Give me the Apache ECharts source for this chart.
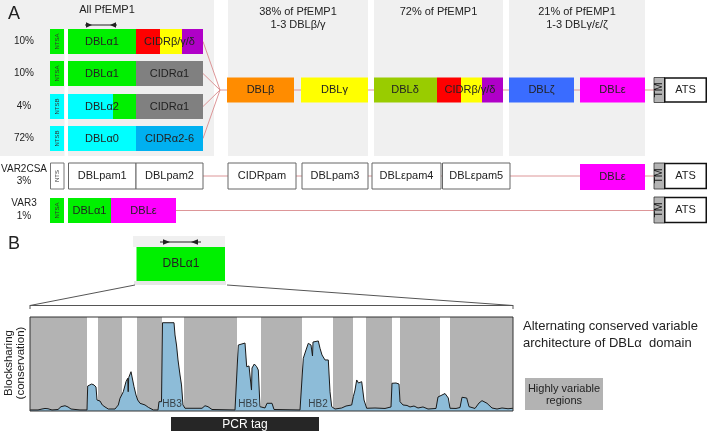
<!DOCTYPE html>
<html>
<head>
<meta charset="utf-8">
<script src="https://cdn.jsdelivr.net/npm/echarts@6/dist/echarts.min.js"></script>
<style>html,body{margin:0;padding:0;background:#fff;}#c{width:708px;height:431px;}</style>
</head>
<body>
<div id="c"></div>
<script>
// ---------- data ----------
const panelTitles = [['All PfEMP1'], ['38% of PfEMP1', '1-3 DBLβ/γ'], ['72% of PfEMP1'], ['21% of PfEMP1', '1-3 DBLγ/ε/ζ']];
const rowPercents = ['10%', '10%', '4%', '72%'];
const ntsLabels = ['NTSA', 'NTSA', 'NTSB', 'NTSB'];
const headDomains = ['DBLα1', 'DBLα1', 'DBLα2', 'DBLα0'];
const cidrDomains = ['CIDRβ/γ/δ', 'CIDRα1', 'CIDRα1', 'CIDRα2-6'];
const coreDomains = ['DBLβ', 'DBLγ', 'DBLδ', 'CIDRβ/γ/δ', 'DBLζ', 'DBLε'];
const var2csaLabel = ['VAR2CSA', '3%'];
const var2csaDomains = ['NTS', 'DBLpam1', 'DBLpam2', 'CIDRpam', 'DBLpam3', 'DBLεpam4', 'DBLεpam5', 'DBLε'];
const var3Label = ['VAR3', '1%'];
const var3Domains = ['NTSA', 'DBLα1', 'DBLε'];
const tailDomains = ['TM', 'ATS'];
const zoomDomain = 'DBLα1';
const yAxisTitle = 'Blocksharing\n(conservation)';
const sideNote = ['Alternating conserved variable', 'architecture of DBLα  domain'];
const legendNote = ['Highly variable', 'regions'];
const pcrLabel = 'PCR tag';

// blocksharing profile (position along DBLα, conservation %)
const profileX = [0,8,12,15,18,22,28,31,35,38,41,50,57,57.7,61.7,64,66,67,70,72.3,75,78.3,85,88.3,90,93.3,95,96,97.7,98.2,98.7,101,103,104,106,107.7,110,115,118.3,123.3,128,129,131.5,132.5,144,145,146.5,148,150,151.5,153,155,165,167,172,175,178,182,205,207,208.3,215,216.7,219,221.5,222,224.3,226.7,228.3,230,235,237,242,244,270,271.7,273.3,276,278.3,281,282.5,283,285,288.3,290,292,295,298.3,300,301.7,305,311.7,316,321.7,323.3,325,326.7,328.5,331.7,334,336.7,345,355,361,362,366,369,370,373,377,380,384,388,393,398,406,408,412,415,418.3,420,426,430,432,436.7,439,445,449,452,457,462,467,472,478,483];
const profileY = [1.1,1.1,2.1,2.7,2.4,1.1,1.6,4.6,5.6,4.3,2.1,1.1,1.1,26.6,28.7,27.7,25.5,11.7,10.6,6.4,4.3,2.1,2.1,6.4,13.5,20.5,20.5,31.2,34.8,20.5,35.5,41.8,40.4,25.9,17,11.7,8.2,6.4,3.9,1.1,1.1,9.9,9.9,93.9,93.9,80.9,70.2,54.3,38.3,27.7,6.4,2.9,2.9,1.6,2.9,5.6,4.6,1.6,1.1,1.6,70.2,72.3,47.1,47.9,22.3,45.7,50,47.1,43.6,4.6,3.2,8.2,8.2,1.6,1.1,1.1,56.1,64.9,72,70.2,58.5,73.4,75.5,74.5,66.7,59.6,54.3,54.3,20.5,4.6,2.1,3.2,5.3,6.4,15.2,22.3,33,29.8,31.2,11.7,2.9,3.2,2.7,4.3,29.5,29.8,28.7,9.9,6.4,5.9,4.3,5.3,3.2,4.3,2.1,2.7,14.9,17,18.6,13.8,2.9,2.7,3.7,14.6,13.8,4.6,2.7,8.5,11,8.2,3.2,2.1,3.2,2.4,2.9];
const variableRegions = [[0,57],[68,92],[107,132],[154,207],[231,272],[303,323],[336,362],[370,410],[420,483]];
const hbLabels = ['HB3', 'HB5', 'HB2'];
const hbX = [142, 218, 288];
const hbY = [7.5, 7.5, 7.5];

// ---------- drawing helpers (layout only) ----------
const FF = '"Liberation Sans", Arial, Helvetica, sans-serif';
const C = {panel:'#f0f0f0', green:'#00f000', red:'#ff0000', yellow:'#ffff00', purple:'#b000c8', gray:'#808080',
  cyan:'#00ffff', blue:'#00b0f0', orange:'#ff8c00', olive:'#99cc00', zeta:'#3a6cff', magenta:'#ff00ff',
  link:'#d98a8c', tm:'#b4b4b4', txt:'#222'};
const G = [];
function R(x, y, w, h, fill, stroke, lw, z) {
  G.push({type:'rect', shape:{x:x, y:y, width:w, height:h}, style:{fill:fill, stroke:stroke || null, lineWidth:lw || 0}, z:z || 1, silent:true});
}
function T(x, y, s, size, o) {
  o = o || {};
  const al = o.align || 'center';
  G.push({type:'text', x:x, y:y, rotation:o.rot || 0, silent:true, z:o.z || 10,
    style:{text:s, x:0, y:0, fill:o.color || C.txt, font:(o.weight || 'normal') + ' ' + size + 'px ' + FF,
      textAlign:al, align:al, textVerticalAlign:'middle', verticalAlign:'middle', lineHeight:o.lh || size * 1.1}});
}
function L(x1, y1, x2, y2, color, w, z) {
  G.push({type:'line', shape:{x1:x1, y1:y1, x2:x2, y2:y2}, style:{stroke:color, lineWidth:w || 1}, z:z || 2, silent:true});
}
function P(pts, fill) {
  G.push({type:'polygon', shape:{points:pts}, style:{fill:fill}, z:4, silent:true});
}
function box(x1, x2, y, h, fill, label, size, stroke) {
  R(x1, y, x2 - x1, h, fill, stroke, stroke ? 1 : 0, 3);
  if (label) T((x1 + x2) / 2, y + h / 2, label, size || 11);
}
function tail(y, h) {
  R(654, y, 10.5, h, C.tm, '#333', 0.8, 3);
  T(659.5, y + h / 2, tailDomains[0], 10.5, {rot:Math.PI / 2, color:'#111'});
  R(664.75, y + 0.5, 41.5, h - 1, '#fff', '#111', 1.5, 3);
  T(685.5, y + h / 2, tailDomains[1], 11);
}

// ---------- panel A ----------
R(0, 0, 214, 156, C.panel);
R(228, 0, 140, 156, C.panel);
R(374, 0, 129, 156, C.panel);
R(509, 0, 136, 156, C.panel);
R(64.5, 29, 3.5, 127, '#fff', null, 0, 2);
T(8, 14, 'A', 18, {align:'left'});
const titleX = [107, 298, 438.5, 577];
const titleY0 = [10, 12, 12, 12];
panelTitles.forEach((lines, i) => lines.forEach((s, j) => T(titleX[i], titleY0[i] + j * 13, s, 11)));
// arrows above DBLα1
L(85, 25, 117, 25, '#222', 1);
P([[92, 25], [86, 22.3], [86, 27.7]], '#222');
P([[110, 25], [116, 22.3], [116, 27.7]], '#222');

const rowsY = [29, 61, 94, 126];
rowsY.forEach((y, i) => {
  const h = 25, cy = y + h / 2;
  T(24, cy, rowPercents[i], 10);
  box(50, 64, y, h, i < 2 ? C.green : C.cyan);
  T(57, cy, ntsLabels[i], 6, {rot:Math.PI / 2, color:'#333'});
  if (i === 0) { box(68, 136, y, h, C.green); box(136, 160, y, h, C.red); box(160, 182, y, h, C.yellow); box(182, 203, y, h, C.purple); }
  if (i === 1) { box(68, 136, y, h, C.green); box(136, 203, y, h, C.gray); }
  if (i === 2) { box(68, 113, y, h, C.cyan); box(113, 136, y, h, C.green); box(136, 203, y, h, C.gray); }
  if (i === 3) { box(68, 136, y, h, C.cyan); box(136, 203, y, h, C.blue); }
  T(102, cy, headDomains[i], 11);
  T(169.5, cy, cidrDomains[i], 11);
  L(203, cy, 220, 90, C.link, 0.9);
});
// core row
const my = 77.5, mh = 25, mc = my + mh / 2;
L(220, mc, 654, mc, C.link, 0.9, 1);
box(227, 294, my, mh, C.orange, coreDomains[0]);
box(301, 368, my, mh, C.yellow, coreDomains[1]);
box(374, 437, my, mh, C.olive); T(405, mc, coreDomains[2], 11);
box(437, 461, my, mh, C.red); box(461, 482, my, mh, C.yellow); box(482, 503, my, mh, C.purple);
T(470, mc, coreDomains[3], 11);
box(509, 574, my, mh, C.zeta, coreDomains[4]);
box(580, 645, my, mh, C.magenta, coreDomains[5]);
tail(my, mh);

// VAR2CSA row
const vy = 163, vh = 26, vc = vy + vh / 2;
T(24, 169, var2csaLabel[0], 10); T(24, 181, var2csaLabel[1], 10);
L(203, vc, 654, vc, C.link, 0.9, 1);
R(50.5, vy, 13.5, vh, '#fff', '#777', 1, 3); T(57, vc, var2csaDomains[0], 6, {rot:Math.PI / 2, color:'#333'});
box(68.5, 136, vy, vh, '#fff', var2csaDomains[1], 11, '#666');
box(136, 203, vy, vh, '#fff', var2csaDomains[2], 11, '#666');
box(228, 296, vy, vh, '#fff', var2csaDomains[3], 11, '#666');
box(302, 368, vy, vh, '#fff', var2csaDomains[4], 11, '#666');
box(372, 441, vy, vh, '#fff', var2csaDomains[5], 11, '#666');
box(442.5, 510, vy, vh, '#fff', var2csaDomains[6], 11, '#666');
box(580, 645, vy + 1, vh, C.magenta, var2csaDomains[7]);
tail(vy, vh);

// VAR3 row
const ty = 198, th = 25, tc = ty + th / 2;
T(24, 203.5, var3Label[0], 10); T(24, 216, var3Label[1], 10);
L(176, tc, 654, tc, C.link, 0.9, 1);
box(50, 64, ty, th, C.green); T(57, tc, var3Domains[0], 6, {rot:Math.PI / 2, color:'#333'});
box(68, 111, ty, th, C.green, var3Domains[1]);
box(111, 176, ty, th, C.magenta, var3Domains[2]);
tail(ty - 1, th + 1);

// ---------- panel B ----------
T(8, 244, 'B', 18, {align:'left'});
R(133, 236, 92, 11, C.panel);
R(136.5, 247, 88.5, 34, C.green, null, 0, 3);
T(181, 264, zoomDomain, 12);
R(134, 281, 92, 4, '#e6e6e6');
L(160, 242, 201, 242, '#222', 1);
P([[170, 242], [163, 239.3], [163, 244.7]], '#222');
P([[191, 242], [198, 239.3], [198, 244.7]], '#222');
L(135, 285, 30, 305.5, '#555', 1);
L(227, 285, 513, 305.5, '#555', 1);
L(30, 305.5, 513, 305.5, '#555', 1);
L(30, 305, 30, 309, '#555', 1);
L(513, 305, 513, 309, '#555', 1);
T(14.5, 363, yAxisTitle, 11.5, {rot:Math.PI / 2, lh:12});
T(523, 326, sideNote[0], 13, {align:'left'});
T(523, 343, sideNote[1], 13, {align:'left'});
R(525, 378, 78, 32, '#b3b3b3');
T(564, 389, legendNote[0], 11);
T(564, 401, legendNote[1], 11);
R(171, 417, 148, 14, '#262626');
T(245, 424.5, pcrLabel, 12, {color:'#fff'});

// ---------- chart ----------
const profile = profileX.map((x, i) => [x, profileY[i]]);
const chart = echarts.init(document.getElementById('c'), null, {renderer:'canvas'});
chart.setOption({
  animation:false,
  grid:{left:30, top:317, width:483, height:94, show:true, borderColor:'#333', borderWidth:1, backgroundColor:'transparent', z:10},
  xAxis:{type:'value', min:0, max:483, show:false},
  yAxis:{type:'value', min:0, max:100, show:false},
  graphic:{elements:G},
  series:[
    {type:'line', data:profile, symbol:'none', silent:true, z:1, lineStyle:{opacity:0},
      markArea:{silent:true, itemStyle:{color:'#b3b3b3'}, data:variableRegions.map(r => [{xAxis:r[0]}, {xAxis:r[1]}])}},
    {type:'line', data:profile, symbol:'none', silent:true, z:3, lineStyle:{color:'#1a1a1a', width:1},
      areaStyle:{color:'#8dbcd8', opacity:1}},
    {type:'scatter', silent:true, z:6, symbol:'rect', symbolSize:1, itemStyle:{color:'rgba(0,0,0,0)'},
      data:hbX.map((x, i) => ({value:[x, hbY[i]], name:hbLabels[i]})),
      label:{show:true, position:'inside', formatter:'{b}', color:'#222', fontSize:10, fontFamily:FF}}
  ]
});
</script>
</body>
</html>
